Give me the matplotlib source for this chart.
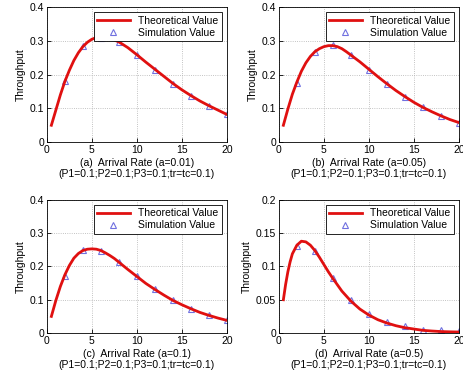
import numpy as np
import matplotlib.pyplot as plt

plt.rcParams['font.family'] = ['Liberation Sans', 'DejaVu Sans']
plt.rcParams['font.size'] = 7.5

# theoretical curves
xa = [0.5, 1, 1.5, 2, 2.5, 3, 3.5, 4, 4.5, 5, 5.5, 6, 7, 8, 9, 10, 11, 12, 13, 14, 15, 16, 17, 18, 19, 20]
ya = [0.05, 0.095, 0.14, 0.18, 0.213, 0.242, 0.265, 0.283, 0.296, 0.305, 0.31, 0.312, 0.308, 0.297,
      0.28, 0.259, 0.237, 0.216, 0.195, 0.174, 0.155, 0.138, 0.122, 0.108, 0.095, 0.082]
xb = [0.5, 1, 1.5, 2, 2.5, 3, 3.5, 4, 4.5, 5, 5.5, 6, 6.5, 7, 7.5, 8, 9, 10, 11, 12, 13, 14, 15, 16, 17, 18, 19, 20]
yb = [0.05, 0.098, 0.142, 0.178, 0.21, 0.235, 0.254, 0.268, 0.277, 0.283, 0.286, 0.286, 0.283, 0.277,
      0.268, 0.258, 0.238, 0.216, 0.194, 0.173, 0.153, 0.135, 0.118, 0.103, 0.09, 0.078, 0.067, 0.058]
xc = [0.5, 1, 1.5, 2, 2.5, 3, 3.5, 4, 4.5, 5, 5.5, 6, 6.5, 7, 7.5, 8, 9, 10, 11, 12, 13, 14, 15, 16, 17, 18, 19, 20]
yc = [0.05, 0.098, 0.14, 0.175, 0.203, 0.225, 0.239, 0.248, 0.252, 0.253, 0.252, 0.248, 0.241, 0.233,
      0.224, 0.213, 0.191, 0.17, 0.149, 0.131, 0.114, 0.098, 0.085, 0.073, 0.062, 0.053, 0.045, 0.038]
xd = [0.5, 0.75, 1, 1.25, 1.5, 2, 2.5, 3, 3.5, 4, 4.5, 5, 5.5, 6, 7, 8, 9, 10, 11, 12, 13, 14, 15, 16, 17, 18, 19, 20]
yd = [0.05, 0.073, 0.092, 0.107, 0.119, 0.132, 0.138, 0.137, 0.132, 0.124, 0.114, 0.103, 0.092, 0.082,
      0.063, 0.048, 0.036, 0.027, 0.02, 0.015, 0.011, 0.008, 0.006, 0.004, 0.003, 0.0022, 0.0018, 0.0015]

# simulation points
xs = [2, 4, 6, 8, 10, 12, 14, 16, 18, 20]
sa = [0.18, 0.285, 0.31, 0.297, 0.258, 0.215, 0.173, 0.138, 0.108, 0.082]
sb = [0.175, 0.268, 0.287, 0.258, 0.215, 0.173, 0.135, 0.103, 0.078, 0.058]
sc = [0.172, 0.25, 0.248, 0.213, 0.17, 0.132, 0.098, 0.073, 0.055, 0.038]
sd = [0.131, 0.123, 0.083, 0.05, 0.029, 0.017, 0.01, 0.005, 0.004, 0.003]

labels = ['(a)  Arrival Rate (a=0.01)', '(b)  Arrival Rate (a=0.05)',
          '(c)  Arrival Rate (a=0.1)', '(d)  Arrival Rate (a=0.5)']
sub = '(P1=0.1;P2=0.1;P3=0.1;tr=tc=0.1)'

fig = plt.figure(figsize=(4.64, 3.78), dpi=100)
pos = [[0.101, 0.624, 0.388, 0.357], [0.601, 0.624, 0.388, 0.357],
       [0.101, 0.119, 0.388, 0.352], [0.601, 0.119, 0.388, 0.352]]
data = [(xa, ya, sa, 0.4), (xb, yb, sb, 0.4), (xc, yc, sc, 0.4), (xd, yd, sd, 0.2)]

for i, (x, y, s, top) in enumerate(data):
    ax = fig.add_axes(pos[i])
    ax.plot(x, y, color='#e01010', lw=2, label='Theoretical Value', zorder=3,
            solid_joinstyle='round')
    ax.plot(xs, s, ls='none', marker='^', mfc='none', mec='#7070e0', ms=5, mew=0.8,
            label='Simulation Value', zorder=2)
    ax.set_xlim(0, 20)
    ax.set_ylim(0, top)
    ax.set_xticks([0, 5, 10, 15, 20])
    if top == 0.4:
        ax.set_yticks([0, 0.1, 0.2, 0.3, 0.4])
        ax.set_yticklabels(['0', '0.1', '0.2', '0.3', '0.4'])
    else:
        ax.set_yticks([0, 0.05, 0.1, 0.15, 0.2])
        ax.set_yticklabels(['0', '0.05', '0.1', '0.15', '0.2'])
    ax.grid(True, ls=':', color='#b0b0b0', lw=0.6)
    ax.tick_params(direction='in', length=3, width=0.6, pad=2)
    for sp in ax.spines.values():
        sp.set_linewidth(0.6)
    ax.set_ylabel('Throughput', labelpad=3)
    ax.set_xlabel(labels[i] + '\n' + sub, labelpad=2, linespacing=1.2)
    leg = ax.legend(loc='upper right', fontsize=7.5, fancybox=False, framealpha=1,
                    edgecolor='black', borderpad=0.3, handlelength=3.2,
                    labelspacing=0.2, borderaxespad=0.5)
    leg.get_frame().set_linewidth(0.6)

fig.savefig('out.png', dpi=100)
